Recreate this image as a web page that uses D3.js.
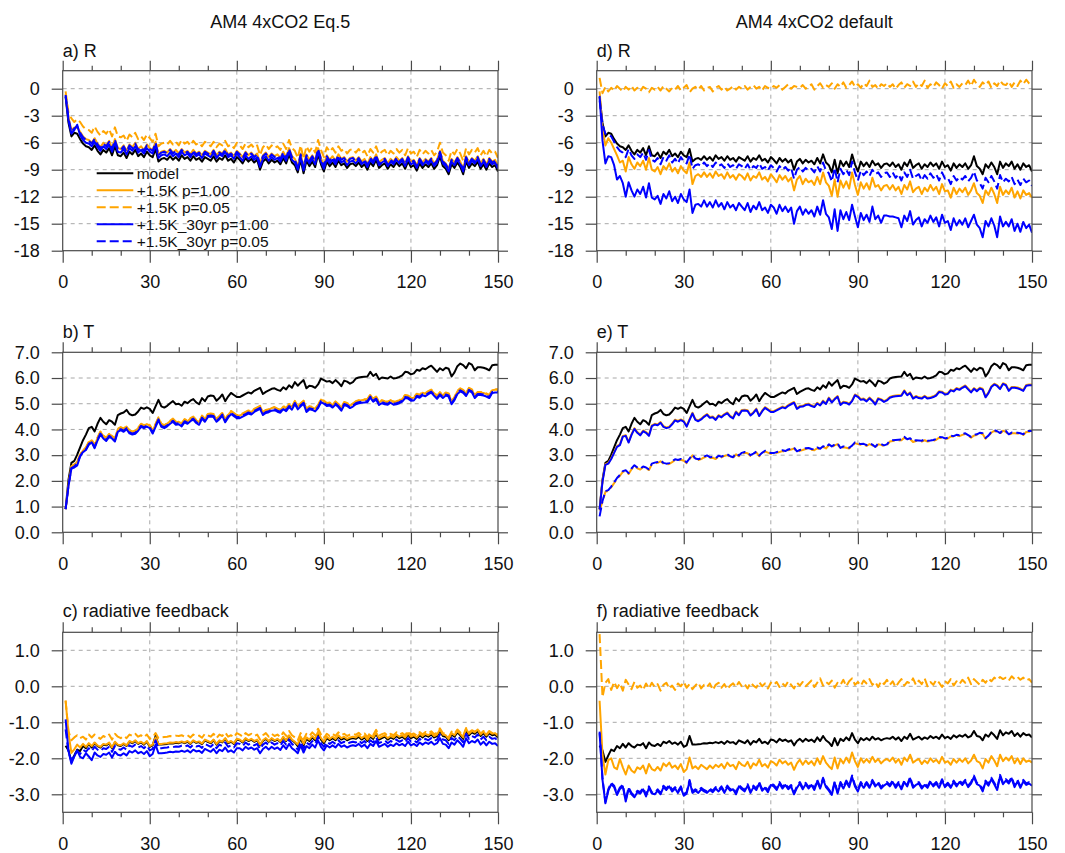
<!DOCTYPE html>
<html>
<head>
<meta charset="utf-8">
<script src="https://cdn.jsdelivr.net/npm/d3@7"></script>
<style>
  body { margin: 0; background: #fff; }
  svg { display: block; }
</style>
</head>
<body>
<svg id="chart" width="1065" height="853"></svg>
<script>
// ---------- axis ticks and labels ----------
const years = d3.range(1, 151);
const xTicks = [0, 30, 60, 90, 120, 150];
const xMinorTicks = [10, 20, 40, 50, 70, 80, 100, 110, 130, 140];
const rTicks = [0, -3, -6, -9, -12, -15, -18];
const tTicks = [0, 1, 2, 3, 4, 5, 6, 7];
const fbTicks = [1, 0, -1, -2, -3];
const columnTitles = ["AM4 4xCO2 Eq.5", "AM4 4xCO2 default"];
const seriesNames = ["model", "+1.5K p=1.00", "+1.5K p=0.05", "+1.5K_30yr p=1.00", "+1.5K_30yr p=0.05"];

// ---------- R (W m-2) ----------
const rModel = [
-0.9,-3.8,-5.3,-4.9,-5.0,-5.6,-6.1,-6.4,-6.5,-6.8,
-6.3,-6.9,-7.3,-6.8,-7.1,-6.6,-7.4,-6.4,-7.4,-7.5,
-7.1,-7.7,-7.0,-7.3,-6.8,-7.5,-7.2,-7.6,-7.0,-7.4,
-7.6,-6.7,-8.1,-7.8,-7.7,-7.9,-7.5,-7.9,-7.6,-8.0,
-7.4,-7.8,-7.6,-8.0,-7.5,-7.9,-7.7,-8.1,-7.6,-7.8,
-8.0,-7.5,-8.1,-7.7,-7.9,-7.4,-8.0,-7.8,-8.2,-7.6,
-7.9,-8.3,-7.7,-8.1,-7.8,-8.2,-7.9,-9.0,-8.1,-7.8,
-8.3,-7.9,-8.2,-8.0,-8.4,-7.7,-8.3,-7.3,-8.2,-8.5,
-9.3,-7.9,-9.4,-8.0,-8.6,-8.1,-8.7,-7.3,-8.4,-9.2,
-8.1,-8.6,-8.2,-8.7,-8.0,-8.5,-8.3,-8.8,-8.4,-8.3,
-8.6,-8.2,-8.7,-8.4,-9.0,-8.2,-8.6,-7.9,-8.8,-8.5,
-8.3,-8.9,-8.4,-8.7,-8.2,-8.6,-8.3,-8.9,-8.1,-8.7,
-8.5,-9.1,-8.3,-8.8,-8.4,-8.7,-8.3,-8.9,-8.5,-7.5,
-8.6,-8.9,-9.5,-8.4,-8.8,-8.2,-8.7,-9.5,-8.1,-8.8,
-8.3,-8.6,-8.1,-8.9,-8.4,-9.0,-8.3,-8.7,-8.5,-9.2];

const rEqP100 = [
-0.6,-3.2,-4.6,-4.3,-4.3,-4.8,-5.3,-5.6,-5.7,-6.0,
-5.5,-6.1,-6.5,-6.0,-6.3,-5.8,-6.6,-5.6,-6.6,-6.7,
-6.3,-6.9,-6.2,-6.5,-6.0,-6.7,-6.4,-6.8,-6.2,-6.6,
-6.8,-5.9,-7.3,-7.0,-6.9,-7.1,-6.7,-7.1,-6.8,-7.2,
-6.7,-7.1,-6.9,-7.3,-6.8,-7.2,-7.0,-7.4,-6.9,-7.1,
-7.3,-6.8,-7.4,-7.0,-7.2,-6.7,-7.3,-7.1,-7.5,-6.9,
-7.2,-7.6,-7.0,-7.4,-7.1,-7.5,-7.2,-8.3,-7.4,-7.1,
-7.6,-7.2,-7.5,-7.3,-7.7,-7.0,-7.6,-6.6,-7.5,-7.8,
-8.6,-7.2,-8.7,-7.3,-7.9,-7.4,-8.0,-6.6,-7.7,-8.5,
-7.4,-7.9,-7.5,-8.0,-7.3,-7.8,-7.6,-8.1,-7.7,-7.6,
-8.0,-7.6,-8.1,-7.8,-8.4,-7.6,-8.0,-7.3,-8.2,-7.9,
-7.7,-8.3,-7.8,-8.1,-7.6,-8.0,-7.7,-8.3,-7.5,-8.1,
-7.9,-8.5,-7.7,-8.2,-7.8,-8.1,-7.7,-8.3,-7.9,-6.9,
-8.0,-8.3,-8.9,-7.8,-8.2,-7.6,-8.1,-8.9,-7.5,-8.2,
-7.7,-8.0,-7.5,-8.3,-7.8,-8.4,-7.7,-8.1,-7.9,-8.6];

const rEqP005 = [
-0.3,-2.7,-3.3,-3.7,-3.4,-3.7,-4.2,-4.5,-4.6,-4.9,
-4.2,-4.8,-5.2,-4.7,-5.0,-4.5,-5.3,-4.3,-5.3,-5.4,
-5.2,-5.8,-5.1,-5.4,-4.9,-5.6,-5.3,-5.7,-5.1,-5.5,
-5.9,-5.0,-6.4,-6.1,-6.0,-6.2,-5.8,-6.2,-5.9,-6.3,
-5.7,-6.1,-5.9,-6.3,-5.8,-6.2,-6.0,-6.4,-5.9,-6.1,
-6.4,-5.9,-6.5,-6.1,-6.3,-5.8,-6.4,-6.2,-6.6,-6.0,
-6.3,-6.7,-6.1,-6.5,-6.2,-6.6,-6.3,-7.4,-6.5,-6.2,
-6.7,-6.3,-6.6,-6.4,-6.8,-6.1,-6.7,-5.7,-6.6,-6.9,
-7.7,-6.3,-7.8,-6.4,-7.0,-6.5,-7.1,-5.7,-6.8,-7.6,
-6.5,-7.0,-6.6,-7.1,-6.4,-6.9,-6.7,-7.2,-6.8,-6.7,
-7.1,-6.7,-7.2,-6.9,-7.5,-6.7,-7.1,-6.4,-7.3,-7.0,
-6.8,-7.4,-6.9,-7.2,-6.7,-7.1,-6.8,-7.4,-6.6,-7.2,
-7.0,-7.6,-6.8,-7.3,-6.9,-7.2,-6.8,-7.4,-7.0,-6.0,
-7.1,-7.4,-8.0,-6.9,-7.3,-6.7,-7.2,-8.0,-6.6,-7.3,
-6.8,-7.1,-6.6,-7.4,-6.9,-7.5,-6.8,-7.2,-7.0,-7.7];

const rEq30P100 = [
-0.8,-3.5,-5.0,-4.6,-4.0,-5.2,-5.7,-6.0,-6.1,-6.4,
-5.9,-6.5,-6.9,-6.4,-6.7,-6.2,-7.0,-6.0,-7.0,-7.1,
-6.7,-7.3,-6.6,-6.9,-6.4,-7.1,-6.8,-7.2,-6.6,-7.0,
-7.2,-6.3,-7.7,-7.4,-7.3,-7.5,-7.1,-7.5,-7.2,-7.6,
-7.0,-7.4,-7.2,-7.6,-7.1,-7.5,-7.3,-7.7,-7.2,-7.4,
-7.6,-7.1,-7.7,-7.3,-7.5,-7.0,-7.6,-7.4,-7.8,-7.2,
-7.6,-8.0,-7.4,-7.8,-7.5,-7.9,-7.6,-8.7,-7.8,-7.5,
-8.0,-7.6,-7.9,-7.7,-8.1,-7.4,-8.0,-7.0,-7.9,-8.2,
-9.0,-7.6,-9.1,-7.7,-8.3,-7.8,-8.4,-7.0,-8.1,-8.9,
-7.8,-8.3,-7.9,-8.4,-7.7,-8.2,-8.0,-8.5,-8.1,-8.0,
-8.3,-7.9,-8.4,-8.1,-8.7,-7.9,-8.3,-7.6,-8.5,-8.2,
-8.0,-8.6,-8.1,-8.4,-7.9,-8.3,-8.0,-8.6,-7.8,-8.4,
-8.2,-8.8,-8.0,-8.5,-8.1,-8.4,-8.0,-8.6,-8.2,-7.2,
-8.3,-8.6,-9.2,-8.1,-8.5,-7.9,-8.4,-9.2,-7.8,-8.5,
-8.0,-8.3,-7.8,-8.6,-8.1,-8.7,-8.0,-8.4,-8.2,-8.9];

const rEq30P005 = [
-0.7,-3.3,-4.8,-4.4,-4.2,-4.9,-5.4,-5.7,-5.8,-6.1,
-5.6,-6.2,-6.6,-6.1,-6.4,-5.9,-6.7,-5.7,-6.7,-6.8,
-6.4,-7.0,-6.3,-6.6,-6.1,-6.8,-6.5,-6.9,-6.3,-6.7,
-6.9,-6.0,-7.4,-7.1,-7.0,-7.2,-6.8,-7.2,-6.9,-7.3,
-6.8,-7.2,-7.0,-7.4,-6.9,-7.3,-7.1,-7.5,-7.0,-7.2,
-7.4,-6.9,-7.5,-7.1,-7.3,-6.8,-7.4,-7.2,-7.6,-7.0,
-7.3,-7.7,-7.1,-7.5,-7.2,-7.6,-7.3,-8.4,-7.5,-7.2,
-7.7,-7.3,-7.6,-7.4,-7.8,-7.1,-7.7,-6.7,-7.6,-7.9,
-8.7,-7.3,-8.8,-7.4,-8.0,-7.5,-8.1,-6.7,-7.8,-8.6,
-7.5,-8.0,-7.6,-8.1,-7.4,-7.9,-7.7,-8.2,-7.8,-7.7,
-8.1,-7.7,-8.2,-7.9,-8.5,-7.7,-8.1,-7.4,-8.3,-8.0,
-7.8,-8.4,-7.9,-8.2,-7.7,-8.1,-7.8,-8.4,-7.6,-8.2,
-8.0,-8.6,-7.8,-8.3,-7.9,-8.2,-7.8,-8.4,-8.0,-7.0,
-8.1,-8.4,-9.0,-7.9,-8.3,-7.7,-8.2,-9.0,-7.6,-8.3,
-7.8,-8.1,-7.6,-8.4,-7.9,-8.5,-7.8,-8.2,-8.0,-8.7];

const rDefP100 = [
-0.3,-4.5,-6.3,-5.5,-6.0,-6.7,-7.4,-8.2,-8.0,-9.2,
-7.6,-8.4,-8.9,-8.2,-8.6,-8.0,-9.0,-7.7,-9.0,-9.2,
-8.7,-9.5,-8.6,-9.0,-8.3,-9.2,-8.8,-9.4,-8.6,-9.1,
-9.4,-8.2,-10.6,-9.7,-9.5,-9.8,-9.3,-9.8,-9.4,-9.9,
-9.2,-9.7,-9.5,-10.0,-9.3,-9.9,-9.6,-10.1,-9.5,-9.7,
-10.1,-9.4,-10.2,-9.7,-9.9,-9.3,-10.1,-9.8,-10.3,-9.5,
-9.9,-10.4,-9.6,-10.1,-9.7,-10.3,-9.9,-11.3,-10.1,-9.7,
-10.6,-10.0,-10.4,-10.2,-10.7,-9.8,-10.6,-9.3,-10.4,-10.8,
-11.9,-10.1,-12.0,-10.2,-11.0,-10.3,-11.1,-9.3,-10.7,-11.8,
-10.4,-11.1,-10.5,-11.2,-9.9,-10.9,-10.7,-11.3,-10.8,-10.7,
-11.2,-10.7,-11.3,-10.9,-11.7,-10.7,-11.2,-10.3,-11.5,-11.1,
-10.9,-11.7,-11.0,-11.4,-10.7,-11.3,-10.9,-11.7,-10.6,-11.4,
-11.3,-12.1,-11.0,-11.7,-11.1,-11.5,-11.0,-11.8,-11.3,-10.5,
-11.6,-11.9,-12.7,-11.3,-11.8,-11.0,-11.7,-12.7,-10.9,-11.8,
-11.3,-11.7,-11.0,-12.1,-11.4,-12.2,-11.3,-11.8,-11.6,-12.1];

const rDefP005 = [
1.2,-0.5,0.2,-0.3,0.1,-0.2,0.3,0.0,-0.3,0.2,
-0.1,0.3,-0.2,0.1,-0.3,0.2,0.0,-0.4,0.1,-0.1,
0.2,-0.2,0.3,0.0,-0.3,0.1,-0.1,0.3,-0.2,0.1,
0.4,-0.4,0.0,0.2,-0.1,0.3,-0.2,0.1,0.2,-0.3,
0.1,0.3,-0.1,0.2,-0.2,0.0,0.3,-0.1,0.2,0.0,
0.3,-0.1,0.2,0.4,0.0,0.2,-0.2,0.3,0.1,0.0,
0.3,0.1,0.4,-0.1,0.2,0.5,0.0,0.3,0.2,0.1,
0.4,0.0,0.2,0.5,-0.1,0.3,0.6,0.1,0.4,0.2,
0.6,0.0,0.5,0.2,0.7,0.1,0.4,0.8,0.2,0.5,
0.1,0.6,0.3,0.9,0.2,0.4,0.0,0.5,0.3,0.6,
0.2,0.5,0.0,0.4,0.7,0.1,0.5,0.3,0.8,0.2,
0.6,0.3,0.9,0.1,0.5,0.2,0.7,0.4,0.0,0.6,
0.3,0.8,0.1,0.5,0.2,0.6,0.4,0.9,0.3,1.0,
0.5,0.2,0.7,0.4,0.8,0.1,0.6,0.3,0.9,0.5,
0.4,0.8,0.2,0.7,0.3,0.9,0.5,1.0,0.6,0.4];

const rDef30P100 = [
-0.8,-5.8,-8.3,-7.5,-7.6,-8.5,-10.1,-9.7,-10.5,-12.0,
-10.4,-11.3,-12.0,-11.2,-11.7,-10.9,-12.1,-10.5,-12.1,-12.3,
-11.9,-12.8,-11.7,-12.2,-11.4,-12.5,-12.0,-12.7,-11.7,-12.3,
-12.6,-11.2,-13.8,-12.9,-12.8,-13.1,-12.4,-13.1,-12.6,-13.2,
-12.4,-13.1,-12.7,-13.4,-12.6,-13.2,-12.9,-13.5,-12.7,-13.1,
-13.5,-12.7,-13.7,-13.0,-13.4,-12.6,-13.5,-13.2,-13.8,-12.9,
-13.2,-13.9,-12.9,-13.6,-13.1,-13.7,-13.2,-15.0,-13.6,-13.1,
-14.0,-13.4,-13.9,-13.5,-14.2,-13.1,-14.0,-12.4,-13.9,-14.3,
-15.6,-13.4,-15.8,-13.5,-14.5,-13.7,-14.6,-12.9,-14.2,-15.4,
-13.8,-14.6,-14.0,-14.8,-13.1,-14.5,-14.1,-14.9,-14.1,-14.1,
-14.2,-14.2,-14.3,-14.4,-15.4,-14.1,-14.7,-13.6,-15.1,-14.6,
-14.3,-15.3,-14.5,-14.9,-14.1,-14.8,-14.3,-15.3,-14.0,-14.9,
-14.7,-15.7,-14.4,-15.2,-14.6,-15.1,-14.4,-15.4,-14.7,-14.0,
-15.1,-15.5,-16.5,-14.7,-15.3,-14.4,-15.2,-16.5,-14.2,-15.3,
-14.8,-15.3,-14.5,-15.8,-15.0,-15.9,-14.8,-15.5,-15.1,-16.0];

const rDef30P005 = [
-1.3,-4.0,-5.0,-5.1,-5.3,-5.9,-6.5,-6.9,-7.1,-7.6,
-6.7,-7.4,-7.8,-7.3,-7.6,-7.1,-7.9,-6.8,-7.9,-8.1,
-7.7,-8.4,-7.6,-8.0,-7.4,-8.2,-7.8,-8.3,-7.6,-8.1,
-8.3,-7.3,-8.9,-8.5,-8.4,-8.6,-8.2,-8.6,-8.3,-8.7,
-8.2,-8.6,-8.4,-8.8,-8.3,-8.7,-8.5,-8.9,-8.4,-8.6,
-8.9,-8.4,-9.0,-8.6,-8.8,-8.3,-8.9,-8.7,-9.1,-8.5,
-8.8,-9.2,-8.6,-9.0,-8.7,-9.1,-8.8,-10.0,-9.0,-8.7,
-9.2,-8.8,-9.1,-8.9,-9.3,-8.6,-9.2,-8.2,-9.1,-9.4,
-10.3,-8.8,-10.4,-8.9,-9.5,-9.0,-9.6,-8.1,-9.3,-10.2,
-9.1,-9.6,-9.2,-9.7,-9.0,-9.5,-9.3,-9.8,-9.4,-9.3,
-9.8,-9.3,-9.9,-9.5,-10.2,-9.3,-9.8,-9.0,-10.0,-9.7,
-9.5,-10.2,-9.6,-10.0,-9.4,-9.9,-9.5,-10.2,-9.3,-10.0,
-9.9,-10.6,-9.7,-10.2,-9.8,-10.1,-9.7,-10.3,-9.9,-9.2,
-10.2,-10.5,-11.1,-9.9,-10.4,-9.7,-10.3,-11.1,-9.6,-10.4,
-10.0,-10.3,-9.8,-10.6,-10.1,-10.7,-10.0,-10.4,-10.2,-10.8];

// ---------- T (K) ----------
const tModel = [
0.90,2.05,2.70,2.78,3.02,3.30,3.58,3.80,4.05,4.10,
3.92,4.22,4.45,4.30,4.20,4.36,4.30,4.18,4.56,4.62,
4.66,4.76,4.60,4.55,4.58,4.70,4.85,4.80,4.86,4.80,
4.64,4.90,5.15,4.90,4.85,4.92,5.02,5.10,4.98,5.00,
4.92,5.08,5.02,5.12,5.18,5.05,4.98,5.22,5.10,5.28,
5.32,5.30,5.12,5.22,5.36,5.10,5.28,5.42,5.34,5.26,
5.26,5.32,5.38,5.44,5.40,5.50,5.56,5.62,5.38,5.46,
5.52,5.58,5.60,5.54,5.50,5.64,5.56,5.72,5.62,5.84,
5.70,5.82,5.92,5.60,5.70,5.68,5.62,5.75,5.98,5.92,
5.86,5.88,5.80,5.92,5.82,5.68,5.90,5.86,5.78,5.84,
5.98,6.02,6.04,6.05,6.06,6.24,6.08,6.16,5.95,6.02,
6.00,5.98,6.06,5.98,6.00,6.04,6.10,6.24,6.22,6.14,
6.18,6.32,6.28,6.38,6.34,6.42,6.48,6.36,6.24,6.38,
6.30,6.40,6.36,6.06,6.22,6.46,6.56,6.50,6.38,6.58,
6.52,6.30,6.42,6.42,6.40,6.36,6.30,6.50,6.52,6.52];

const tEqP100 = [
0.90,1.85,2.55,2.62,2.75,3.00,3.18,3.28,3.50,3.58,
3.37,3.67,3.90,3.75,3.65,3.81,3.75,3.63,4.01,4.07,
4.01,4.11,3.95,3.90,3.93,4.05,4.20,4.15,4.21,4.15,
3.94,4.20,4.45,4.20,4.15,4.22,4.32,4.40,4.28,4.30,
4.22,4.38,4.32,4.42,4.48,4.35,4.28,4.52,4.40,4.58,
4.60,4.58,4.40,4.50,4.64,4.38,4.56,4.70,4.62,4.54,
4.54,4.60,4.66,4.72,4.68,4.78,4.84,4.90,4.66,4.74,
4.77,4.83,4.85,4.79,4.75,4.89,4.81,4.97,4.87,5.09,
4.88,5.00,5.10,4.78,4.88,4.86,4.80,4.93,5.16,5.10,
5.01,5.03,4.95,5.07,4.97,4.83,5.05,5.01,4.93,4.99,
5.08,5.12,5.14,5.15,5.16,5.34,5.18,5.26,5.05,5.12,
5.08,5.06,5.14,5.06,5.08,5.12,5.18,5.32,5.30,5.22,
5.23,5.37,5.33,5.43,5.39,5.47,5.53,5.41,5.29,5.43,
5.32,5.42,5.38,5.08,5.24,5.48,5.58,5.52,5.40,5.60,
5.54,5.32,5.44,5.44,5.42,5.38,5.32,5.52,5.54,5.54];

const tEqP005 = [
0.90,1.87,2.57,2.64,2.77,3.02,3.20,3.30,3.52,3.60,
3.39,3.69,3.92,3.77,3.67,3.83,3.77,3.65,4.03,4.09,
4.03,4.13,3.97,3.92,3.95,4.07,4.22,4.17,4.23,4.17,
3.96,4.22,4.47,4.22,4.17,4.24,4.34,4.42,4.30,4.32,
4.24,4.40,4.34,4.44,4.50,4.37,4.30,4.54,4.42,4.60,
4.62,4.60,4.42,4.52,4.66,4.40,4.58,4.72,4.64,4.56,
4.56,4.62,4.68,4.74,4.70,4.80,4.86,4.92,4.68,4.76,
4.79,4.85,4.87,4.81,4.77,4.91,4.83,4.99,4.89,5.11,
4.90,5.02,5.12,4.80,4.90,4.88,4.82,4.95,5.18,5.12,
5.03,5.05,4.97,5.09,4.99,4.85,5.07,5.03,4.95,5.01,
5.10,5.14,5.16,5.17,5.18,5.36,5.20,5.28,5.07,5.14,
5.10,5.08,5.16,5.08,5.10,5.14,5.20,5.34,5.32,5.24,
5.25,5.39,5.35,5.45,5.41,5.49,5.55,5.43,5.31,5.45,
5.34,5.44,5.40,5.10,5.26,5.50,5.60,5.54,5.42,5.62,
5.56,5.34,5.46,5.46,5.44,5.40,5.34,5.54,5.56,5.56];

const tEq30P100 = [
0.90,1.80,2.48,2.52,2.60,2.95,3.12,3.20,3.40,3.50,
3.27,3.57,3.80,3.65,3.55,3.71,3.65,3.53,3.91,3.97,
3.91,4.01,3.85,3.80,3.83,3.95,4.10,4.05,4.11,4.05,
3.84,4.10,4.35,4.10,4.05,4.12,4.22,4.30,4.18,4.20,
4.12,4.28,4.22,4.32,4.38,4.25,4.18,4.42,4.30,4.48,
4.50,4.48,4.30,4.40,4.54,4.28,4.46,4.60,4.52,4.44,
4.44,4.50,4.56,4.62,4.58,4.68,4.74,4.80,4.56,4.64,
4.67,4.73,4.75,4.69,4.65,4.79,4.71,4.87,4.77,4.99,
4.78,4.90,5.00,4.68,4.78,4.76,4.70,4.83,5.06,5.00,
4.91,4.93,4.85,4.97,4.87,4.73,4.95,4.91,4.83,4.89,
4.98,5.02,5.04,5.05,5.06,5.24,5.08,5.16,4.95,5.02,
4.98,4.96,5.04,4.96,4.98,5.02,5.08,5.22,5.20,5.12,
5.13,5.27,5.23,5.33,5.29,5.37,5.43,5.31,5.19,5.33,
5.22,5.32,5.28,4.98,5.14,5.38,5.48,5.42,5.30,5.50,
5.44,5.22,5.34,5.34,5.32,5.28,5.22,5.42,5.44,5.44];

const tEq30P005 = [
0.90,1.82,2.50,2.56,2.68,2.96,3.14,3.22,3.44,3.52,
3.31,3.61,3.84,3.69,3.59,3.75,3.69,3.57,3.95,4.01,
3.95,4.05,3.89,3.84,3.87,3.99,4.14,4.09,4.15,4.09,
3.88,4.14,4.39,4.14,4.09,4.16,4.26,4.34,4.22,4.24,
4.16,4.32,4.26,4.36,4.42,4.29,4.22,4.46,4.34,4.52,
4.54,4.52,4.34,4.44,4.58,4.32,4.50,4.64,4.56,4.48,
4.48,4.54,4.60,4.66,4.62,4.72,4.78,4.84,4.60,4.68,
4.71,4.77,4.79,4.73,4.69,4.83,4.75,4.91,4.81,5.03,
4.82,4.94,5.04,4.72,4.82,4.80,4.74,4.87,5.10,5.04,
4.95,4.97,4.89,5.01,4.91,4.77,4.99,4.95,4.87,4.93,
5.02,5.06,5.08,5.09,5.10,5.28,5.12,5.20,4.99,5.06,
5.02,5.00,5.08,5.00,5.02,5.06,5.12,5.26,5.24,5.16,
5.17,5.31,5.27,5.37,5.33,5.41,5.47,5.35,5.23,5.37,
5.26,5.36,5.32,5.02,5.18,5.42,5.52,5.46,5.34,5.54,
5.48,5.26,5.38,5.38,5.36,5.32,5.26,5.46,5.48,5.48];

const tDefP100 = [
0.90,2.00,2.65,2.70,2.88,3.12,3.35,3.42,3.75,3.78,
3.52,3.82,4.05,3.90,3.80,3.96,3.90,3.78,4.16,4.22,
4.19,4.29,4.13,4.08,4.11,4.23,4.38,4.33,4.39,4.33,
4.14,4.40,4.65,4.40,4.35,4.42,4.52,4.60,4.48,4.50,
4.40,4.56,4.50,4.60,4.66,4.53,4.46,4.70,4.58,4.76,
4.77,4.75,4.57,4.67,4.81,4.55,4.73,4.87,4.79,4.71,
4.71,4.77,4.83,4.89,4.85,4.95,5.01,5.07,4.83,4.91,
4.92,4.98,5.00,4.94,4.90,5.04,4.96,5.12,5.02,5.24,
5.08,5.20,5.30,4.98,5.08,5.06,5.00,5.13,5.36,5.30,
5.18,5.20,5.12,5.24,5.14,5.00,5.22,5.18,5.10,5.16,
5.26,5.30,5.32,5.33,5.34,5.52,5.36,5.44,5.23,5.30,
5.25,5.23,5.31,5.23,5.25,5.29,5.35,5.49,5.47,5.39,
5.41,5.55,5.51,5.61,5.57,5.65,5.71,5.59,5.47,5.61,
5.52,5.62,5.58,5.28,5.44,5.68,5.78,5.72,5.60,5.80,
5.75,5.53,5.65,5.65,5.63,5.59,5.53,5.73,5.75,5.75];

const tDefP005 = [
0.85,1.19,1.57,1.61,1.75,1.91,2.08,2.20,2.35,2.38,
2.27,2.45,2.58,2.49,2.44,2.53,2.49,2.42,2.64,2.68,
2.70,2.76,2.67,2.64,2.66,2.73,2.81,2.78,2.82,2.78,
2.69,2.84,2.99,2.84,2.81,2.85,2.91,2.96,2.89,2.90,
2.85,2.95,2.91,2.97,3.00,2.93,2.89,3.03,2.96,3.06,
3.09,3.07,2.97,3.03,3.11,2.96,3.06,3.14,3.10,3.05,
3.05,3.09,3.12,3.16,3.13,3.19,3.22,3.26,3.12,3.17,
3.20,3.24,3.25,3.21,3.19,3.27,3.22,3.32,3.26,3.39,
3.31,3.38,3.43,3.25,3.31,3.29,3.26,3.34,3.47,3.43,
3.40,3.41,3.36,3.43,3.38,3.29,3.42,3.40,3.35,3.39,
3.53,3.55,3.56,3.57,3.58,3.68,3.59,3.63,3.51,3.55,
3.54,3.53,3.58,3.53,3.54,3.56,3.60,3.68,3.67,3.62,
3.65,3.73,3.71,3.76,3.74,3.79,3.82,3.75,3.68,3.76,
3.78,3.84,3.82,3.64,3.73,3.88,3.94,3.90,3.83,3.95,
3.91,3.78,3.85,3.85,3.84,3.82,3.78,3.90,3.91,3.91];

const tDef30P100 = [
0.88,1.97,2.62,2.67,2.85,3.09,3.32,3.39,3.72,3.75,
3.49,3.79,4.02,3.87,3.77,3.93,3.87,3.75,4.13,4.19,
4.16,4.26,4.10,4.05,4.08,4.20,4.35,4.30,4.36,4.30,
4.11,4.37,4.62,4.37,4.32,4.39,4.49,4.57,4.45,4.47,
4.37,4.53,4.47,4.57,4.63,4.50,4.43,4.67,4.55,4.73,
4.74,4.72,4.54,4.64,4.78,4.52,4.70,4.84,4.76,4.68,
4.68,4.74,4.80,4.86,4.82,4.92,4.98,5.04,4.80,4.88,
4.89,4.95,4.97,4.91,4.87,5.01,4.93,5.09,4.99,5.21,
5.05,5.17,5.27,4.95,5.05,5.03,4.97,5.10,5.33,5.27,
5.15,5.17,5.09,5.21,5.11,4.97,5.19,5.15,5.07,5.13,
5.23,5.27,5.29,5.30,5.31,5.49,5.33,5.41,5.20,5.27,
5.22,5.20,5.28,5.20,5.22,5.26,5.32,5.46,5.44,5.36,
5.38,5.52,5.48,5.58,5.54,5.62,5.68,5.56,5.44,5.58,
5.49,5.59,5.55,5.25,5.41,5.65,5.75,5.69,5.57,5.77,
5.72,5.50,5.62,5.62,5.60,5.56,5.50,5.70,5.72,5.72];

const tDef30P005 = [
0.62,1.22,1.60,1.64,1.78,1.94,2.11,2.23,2.38,2.41,
2.30,2.48,2.61,2.52,2.47,2.56,2.52,2.45,2.67,2.71,
2.73,2.79,2.70,2.67,2.69,2.76,2.84,2.81,2.85,2.81,
2.72,2.87,3.02,2.87,2.84,2.88,2.94,2.99,2.92,2.93,
2.88,2.98,2.94,3.00,3.03,2.96,2.92,3.06,2.99,3.09,
3.12,3.10,3.00,3.06,3.14,2.99,3.09,3.17,3.13,3.08,
3.08,3.12,3.15,3.19,3.16,3.22,3.25,3.29,3.15,3.20,
3.23,3.27,3.28,3.24,3.22,3.30,3.25,3.35,3.29,3.42,
3.34,3.41,3.46,3.28,3.34,3.32,3.29,3.37,3.50,3.46,
3.43,3.44,3.39,3.46,3.41,3.32,3.45,3.43,3.38,3.42,
3.56,3.58,3.59,3.60,3.61,3.71,3.62,3.66,3.54,3.58,
3.57,3.56,3.61,3.56,3.57,3.59,3.63,3.71,3.70,3.65,
3.68,3.76,3.74,3.79,3.77,3.82,3.85,3.78,3.71,3.79,
3.81,3.87,3.85,3.67,3.76,3.91,3.97,3.93,3.86,3.98,
3.94,3.81,3.88,3.88,3.87,3.85,3.81,3.93,3.94,3.94];

// ---------- radiative feedback (W m-2 K-1) ----------
const fbModel = [
-1.65,-1.78,-2.10,-1.92,-1.76,-1.80,-1.66,-1.72,-1.60,-1.70,
-1.58,-1.66,-1.70,-1.62,-1.64,-1.58,-1.72,-1.56,-1.64,-1.66,
-1.60,-1.66,-1.54,-1.58,-1.52,-1.60,-1.56,-1.62,-1.54,-1.68,
-1.64,-1.38,-1.62,-1.62,-1.61,-1.60,-1.58,-1.59,-1.57,-1.58,
-1.55,-1.58,-1.54,-1.60,-1.52,-1.57,-1.55,-1.61,-1.50,-1.54,
-1.58,-1.50,-1.62,-1.52,-1.56,-1.46,-1.58,-1.54,-1.60,-1.48,
-1.50,-1.56,-1.46,-1.52,-1.48,-1.54,-1.50,-1.64,-1.52,-1.46,
-1.54,-1.46,-1.52,-1.48,-1.55,-1.42,-1.52,-1.38,-1.50,-1.56,
-1.66,-1.44,-1.64,-1.46,-1.52,-1.42,-1.50,-1.30,-1.48,-1.58,
-1.44,-1.50,-1.44,-1.50,-1.40,-1.48,-1.44,-1.50,-1.46,-1.44,
-1.46,-1.40,-1.48,-1.42,-1.52,-1.40,-1.46,-1.32,-1.48,-1.44,
-1.40,-1.48,-1.42,-1.46,-1.38,-1.44,-1.40,-1.46,-1.34,-1.44,
-1.40,-1.46,-1.36,-1.42,-1.36,-1.40,-1.34,-1.42,-1.38,-1.24,
-1.38,-1.40,-1.50,-1.34,-1.40,-1.28,-1.36,-1.46,-1.22,-1.36,
-1.28,-1.32,-1.24,-1.38,-1.30,-1.40,-1.30,-1.36,-1.34,-1.42];

const fbEqP100 = [
-0.40,-1.30,-1.85,-1.75,-1.62,-1.70,-1.60,-1.68,-1.58,-1.66,
-1.56,-1.64,-1.68,-1.60,-1.62,-1.56,-1.70,-1.54,-1.62,-1.64,
-1.58,-1.64,-1.52,-1.56,-1.50,-1.58,-1.54,-1.60,-1.52,-1.66,
-1.62,-1.42,-1.60,-1.60,-1.59,-1.58,-1.56,-1.57,-1.55,-1.56,
-1.53,-1.56,-1.52,-1.58,-1.50,-1.55,-1.53,-1.59,-1.48,-1.52,
-1.56,-1.48,-1.60,-1.50,-1.54,-1.44,-1.56,-1.52,-1.58,-1.46,
-1.48,-1.54,-1.44,-1.50,-1.46,-1.52,-1.48,-1.62,-1.50,-1.44,
-1.52,-1.44,-1.50,-1.46,-1.53,-1.40,-1.50,-1.36,-1.48,-1.54,
-1.62,-1.40,-1.60,-1.42,-1.48,-1.38,-1.46,-1.26,-1.44,-1.54,
-1.40,-1.46,-1.40,-1.46,-1.36,-1.44,-1.40,-1.46,-1.42,-1.40,
-1.42,-1.36,-1.44,-1.38,-1.48,-1.36,-1.42,-1.28,-1.44,-1.40,
-1.36,-1.44,-1.38,-1.42,-1.34,-1.40,-1.36,-1.42,-1.30,-1.40,
-1.36,-1.42,-1.32,-1.38,-1.32,-1.36,-1.30,-1.38,-1.34,-1.20,
-1.34,-1.36,-1.46,-1.30,-1.36,-1.24,-1.32,-1.42,-1.18,-1.32,
-1.24,-1.28,-1.20,-1.34,-1.26,-1.36,-1.26,-1.32,-1.30,-1.38];

const fbEqP005 = [
-0.40,-1.25,-1.50,-1.42,-1.36,-1.44,-1.40,-1.48,-1.34,-1.42,
-1.34,-1.40,-1.46,-1.38,-1.42,-1.34,-1.48,-1.32,-1.40,-1.44,
-1.38,-1.44,-1.34,-1.38,-1.32,-1.40,-1.36,-1.42,-1.34,-1.46,
-1.42,-1.30,-1.44,-1.42,-1.41,-1.40,-1.38,-1.39,-1.37,-1.38,
-1.36,-1.40,-1.36,-1.42,-1.34,-1.39,-1.37,-1.43,-1.32,-1.36,
-1.40,-1.32,-1.44,-1.34,-1.38,-1.28,-1.40,-1.36,-1.42,-1.30,
-1.34,-1.40,-1.30,-1.36,-1.32,-1.38,-1.34,-1.48,-1.36,-1.30,
-1.40,-1.32,-1.38,-1.34,-1.41,-1.28,-1.38,-1.24,-1.36,-1.42,
-1.50,-1.30,-1.48,-1.32,-1.38,-1.28,-1.36,-1.18,-1.34,-1.44,
-1.32,-1.38,-1.32,-1.38,-1.28,-1.36,-1.32,-1.38,-1.34,-1.32,
-1.35,-1.29,-1.37,-1.31,-1.41,-1.29,-1.35,-1.21,-1.37,-1.33,
-1.30,-1.38,-1.32,-1.36,-1.28,-1.34,-1.30,-1.36,-1.24,-1.34,
-1.31,-1.37,-1.27,-1.33,-1.27,-1.31,-1.25,-1.33,-1.29,-1.17,
-1.30,-1.32,-1.42,-1.26,-1.32,-1.20,-1.28,-1.38,-1.16,-1.28,
-1.22,-1.26,-1.18,-1.32,-1.24,-1.34,-1.24,-1.30,-1.28,-1.36];

const fbEq30P100 = [
-0.92,-1.80,-2.15,-1.95,-1.78,-1.96,-2.00,-1.86,-1.95,-2.05,
-1.84,-1.92,-1.96,-1.88,-1.90,-1.84,-1.98,-1.82,-1.90,-1.92,
-1.86,-1.92,-1.80,-1.84,-1.78,-1.86,-1.82,-1.88,-1.80,-1.94,
-1.88,-1.62,-1.86,-1.86,-1.85,-1.84,-1.82,-1.83,-1.81,-1.82,
-1.79,-1.82,-1.78,-1.84,-1.76,-1.81,-1.79,-1.85,-1.74,-1.78,
-1.82,-1.74,-1.86,-1.76,-1.80,-1.70,-1.82,-1.78,-1.84,-1.72,
-1.72,-1.78,-1.68,-1.74,-1.70,-1.76,-1.72,-1.86,-1.74,-1.68,
-1.76,-1.68,-1.74,-1.70,-1.77,-1.64,-1.74,-1.60,-1.72,-1.78,
-1.86,-1.64,-1.84,-1.66,-1.72,-1.62,-1.70,-1.50,-1.68,-1.78,
-1.64,-1.70,-1.64,-1.70,-1.60,-1.68,-1.64,-1.70,-1.66,-1.64,
-1.66,-1.60,-1.68,-1.62,-1.72,-1.60,-1.66,-1.52,-1.68,-1.64,
-1.60,-1.68,-1.62,-1.66,-1.58,-1.64,-1.60,-1.66,-1.54,-1.64,
-1.60,-1.66,-1.56,-1.62,-1.56,-1.60,-1.54,-1.62,-1.58,-1.44,
-1.60,-1.62,-1.72,-1.56,-1.62,-1.50,-1.58,-1.68,-1.44,-1.58,
-1.52,-1.56,-1.48,-1.62,-1.54,-1.64,-1.54,-1.60,-1.58,-1.66];

const fbEq30P005 = [
-1.20,-1.85,-2.05,-1.90,-1.80,-1.88,-1.76,-1.82,-1.72,-1.80,
-1.68,-1.76,-1.80,-1.72,-1.74,-1.68,-1.82,-1.66,-1.74,-1.76,
-1.70,-1.76,-1.64,-1.68,-1.62,-1.70,-1.66,-1.72,-1.64,-1.78,
-1.74,-1.50,-1.72,-1.72,-1.71,-1.70,-1.68,-1.69,-1.67,-1.68,
-1.65,-1.68,-1.64,-1.70,-1.62,-1.67,-1.65,-1.71,-1.60,-1.64,
-1.68,-1.60,-1.72,-1.62,-1.66,-1.56,-1.68,-1.64,-1.70,-1.58,
-1.60,-1.66,-1.56,-1.62,-1.58,-1.64,-1.60,-1.74,-1.62,-1.56,
-1.64,-1.56,-1.62,-1.58,-1.65,-1.52,-1.62,-1.48,-1.60,-1.66,
-1.76,-1.54,-1.74,-1.56,-1.62,-1.52,-1.60,-1.40,-1.58,-1.68,
-1.54,-1.60,-1.54,-1.60,-1.50,-1.58,-1.54,-1.60,-1.56,-1.54,
-1.56,-1.50,-1.58,-1.52,-1.62,-1.50,-1.56,-1.42,-1.58,-1.54,
-1.50,-1.58,-1.52,-1.56,-1.48,-1.54,-1.50,-1.56,-1.44,-1.54,
-1.50,-1.56,-1.46,-1.52,-1.46,-1.50,-1.44,-1.52,-1.48,-1.34,
-1.48,-1.50,-1.60,-1.44,-1.50,-1.38,-1.46,-1.56,-1.32,-1.46,
-1.38,-1.42,-1.34,-1.48,-1.40,-1.50,-1.40,-1.46,-1.44,-1.52];

const fbDefP100 = [
-0.40,-1.90,-2.45,-2.05,-2.00,-2.25,-2.30,-2.02,-2.25,-2.45,
-2.20,-2.34,-2.40,-2.25,-2.30,-2.20,-2.42,-2.16,-2.30,-2.34,
-2.24,-2.34,-2.14,-2.22,-2.12,-2.26,-2.20,-2.30,-2.16,-2.38,
-2.30,-1.98,-2.28,-2.22,-2.30,-2.18,-2.24,-2.30,-2.20,-2.28,
-2.18,-2.24,-2.16,-2.28,-2.12,-2.22,-2.18,-2.30,-2.10,-2.18,
-2.22,-2.10,-2.28,-2.14,-2.20,-2.04,-2.22,-2.16,-2.26,-2.08,
-2.12,-2.20,-2.04,-2.14,-2.08,-2.18,-2.12,-2.32,-2.14,-2.04,
-2.18,-2.06,-2.16,-2.08,-2.20,-2.00,-2.16,-1.94,-2.12,-2.22,
-2.30,-1.98,-2.28,-2.02,-2.14,-1.98,-2.12,-1.84,-2.08,-2.24,
-2.00,-2.12,-2.02,-2.12,-1.96,-2.10,-2.02,-2.14,-2.06,-2.02,
-2.08,-1.98,-2.12,-2.02,-2.18,-1.98,-2.08,-1.90,-2.12,-2.06,
-2.02,-2.16,-2.06,-2.14,-2.00,-2.10,-2.04,-2.14,-1.96,-2.12,
-2.08,-2.18,-2.02,-2.12,-2.02,-2.10,-2.00,-2.14,-2.06,-1.90,
-2.08,-2.12,-2.28,-2.02,-2.12,-1.94,-2.06,-2.22,-1.90,-2.08,
-1.98,-2.06,-1.94,-2.14,-2.00,-2.16,-2.00,-2.10,-2.06,-2.12];

const fbDefP005 = [
1.45,-0.30,0.10,0.20,-0.10,0.12,-0.05,0.08,-0.12,0.18,
0.05,-0.08,0.12,-0.04,0.02,-0.10,0.08,-0.06,0.10,-0.02,
0.06,-0.12,0.04,0.10,-0.06,0.02,-0.10,0.08,0.00,0.12,
-0.04,0.06,-0.08,0.02,0.10,-0.06,0.04,-0.02,0.08,-0.10,
0.04,0.10,-0.04,0.06,-0.08,0.02,0.08,-0.02,0.12,0.00,
0.06,-0.06,0.10,0.02,-0.04,0.12,0.00,0.08,-0.06,0.10,
0.04,0.12,-0.02,0.08,0.00,0.14,0.04,-0.06,0.10,0.02,
0.12,0.00,0.08,0.16,-0.02,0.10,0.22,0.02,0.12,0.06,
0.16,-0.04,0.10,0.04,0.18,0.00,0.14,0.22,0.04,0.12,
0.02,0.16,0.08,0.20,0.04,0.12,-0.02,0.14,0.06,0.18,
0.04,0.14,-0.02,0.10,0.20,0.02,0.12,0.08,0.22,0.04,
0.16,0.06,0.22,0.00,0.12,0.04,0.18,0.10,-0.02,0.14,
0.08,0.20,0.02,0.14,0.06,0.18,0.10,0.24,0.06,0.20,
0.12,0.04,0.18,0.10,0.22,0.14,0.24,0.18,0.26,0.20,
0.24,0.16,0.28,0.20,0.26,0.18,0.24,0.16,0.20,0.10];

const fbDef30P100 = [
-1.30,-2.60,-3.25,-2.90,-2.72,-2.80,-3.02,-2.85,-2.78,-3.20,
-2.85,-3.00,-3.08,-2.94,-2.98,-2.86,-3.06,-2.82,-2.98,-3.00,
-2.90,-3.00,-2.80,-2.88,-2.78,-2.92,-2.84,-2.96,-2.82,-3.04,
-2.98,-2.64,-2.96,-2.90,-2.96,-2.86,-2.92,-2.96,-2.88,-2.94,
-2.84,-2.92,-2.82,-2.96,-2.80,-2.90,-2.86,-3.00,-2.78,-2.86,
-2.92,-2.76,-2.96,-2.80,-2.88,-2.70,-2.90,-2.82,-2.94,-2.74,
-2.78,-2.88,-2.70,-2.84,-2.74,-2.86,-2.78,-3.00,-2.82,-2.70,
-2.86,-2.72,-2.84,-2.74,-2.88,-2.64,-2.84,-2.58,-2.80,-2.90,
-3.02,-2.68,-2.98,-2.70,-2.84,-2.66,-2.80,-2.52,-2.78,-2.92,
-2.70,-2.82,-2.70,-2.82,-2.64,-2.78,-2.70,-2.84,-2.76,-2.70,
-2.78,-2.66,-2.82,-2.70,-2.86,-2.66,-2.78,-2.56,-2.82,-2.74,
-2.70,-2.84,-2.74,-2.82,-2.66,-2.78,-2.70,-2.82,-2.62,-2.80,
-2.72,-2.82,-2.66,-2.78,-2.66,-2.74,-2.64,-2.80,-2.70,-2.52,
-2.72,-2.76,-2.92,-2.66,-2.76,-2.58,-2.72,-2.88,-2.50,-2.72,
-2.62,-2.70,-2.56,-2.80,-2.64,-2.82,-2.64,-2.74,-2.70,-2.76];

const fbDef30P005 = [
-1.26,-2.56,-3.21,-2.86,-2.68,-2.76,-2.98,-2.81,-2.74,-3.16,
-2.81,-2.96,-3.04,-2.90,-2.94,-2.82,-3.02,-2.78,-2.94,-2.96,
-2.86,-2.96,-2.76,-2.84,-2.74,-2.88,-2.80,-2.92,-2.78,-3.00,
-2.94,-2.60,-2.92,-2.86,-2.92,-2.82,-2.88,-2.92,-2.84,-2.90,
-2.80,-2.88,-2.78,-2.92,-2.76,-2.86,-2.82,-2.96,-2.74,-2.82,
-2.88,-2.72,-2.92,-2.76,-2.84,-2.66,-2.86,-2.78,-2.90,-2.70,
-2.74,-2.84,-2.66,-2.80,-2.70,-2.82,-2.74,-2.96,-2.78,-2.66,
-2.82,-2.68,-2.80,-2.70,-2.84,-2.60,-2.80,-2.54,-2.76,-2.86,
-2.98,-2.64,-2.94,-2.66,-2.80,-2.62,-2.76,-2.48,-2.74,-2.88,
-2.66,-2.78,-2.66,-2.78,-2.60,-2.74,-2.66,-2.80,-2.72,-2.66,
-2.74,-2.62,-2.78,-2.66,-2.82,-2.62,-2.74,-2.52,-2.78,-2.70,
-2.66,-2.80,-2.70,-2.78,-2.62,-2.74,-2.66,-2.78,-2.58,-2.76,
-2.68,-2.78,-2.62,-2.74,-2.62,-2.70,-2.60,-2.76,-2.66,-2.48,
-2.68,-2.72,-2.88,-2.62,-2.72,-2.54,-2.68,-2.84,-2.46,-2.68,
-2.58,-2.66,-2.52,-2.76,-2.60,-2.78,-2.60,-2.70,-2.66,-2.72];

// ---------- layout ----------
const FONT = "'Liberation Sans', Arial, Helvetica, sans-serif";
const FS = 18;
const LEGEND_FS = 15.5;
const plotW = 435.3, plotH = 180;
const colX = [62.7, 596.7];
const rowY = [70.7, 352.3, 632.3];
const axisColor = "#4a4a4a";
const gridColor = "#a8a8a8";

// line styles follow the legend order
const lineStyles = [
  { color: "#000000", dash: null },
  { color: "#FFA500", dash: null },
  { color: "#FFA500", dash: "9,4" },
  { color: "#0000FF", dash: null },
  { color: "#0000FF", dash: "9,4" }
];

const fmtInt = d => String(d);
const fmt1 = d => d.toFixed(1);

const panels = [
  { col: 0, row: 0, label: "a) R", domain: [-18, 2], ticks: rTicks, fmt: fmtInt,
    series: [rModel, rEqP100, rEqP005, rEq30P100, rEq30P005], legend: true },
  { col: 0, row: 1, label: "b) T", domain: [0, 7], ticks: tTicks, fmt: fmt1,
    series: [tModel, tEqP100, tEqP005, tEq30P100, tEq30P005] },
  { col: 0, row: 2, label: "c) radiative feedback", domain: [-3.5, 1.5], ticks: fbTicks, fmt: fmt1,
    series: [fbModel, fbEqP100, fbEqP005, fbEq30P100, fbEq30P005] },
  { col: 1, row: 0, label: "d) R", domain: [-18, 2], ticks: rTicks, fmt: fmtInt,
    series: [rModel, rDefP100, rDefP005, rDef30P100, rDef30P005] },
  { col: 1, row: 1, label: "e) T", domain: [0, 7], ticks: tTicks, fmt: fmt1,
    series: [tModel, tDefP100, tDefP005, tDef30P100, tDef30P005] },
  { col: 1, row: 2, label: "f) radiative feedback", domain: [-3.5, 1.5], ticks: fbTicks, fmt: fmt1,
    series: [fbModel, fbDefP100, fbDefP005, fbDef30P100, fbDef30P005] }
];

const svg = d3.select("#chart");
svg.append("rect").attr("width", 1065).attr("height", 853).attr("fill", "#fff");

// column titles
columnTitles.forEach((t, i) => {
  svg.append("text")
    .attr("x", colX[i] + plotW / 2).attr("y", 27.5)
    .attr("text-anchor", "middle")
    .attr("font-family", FONT).attr("font-size", FS).attr("fill", "#111")
    .text(t);
});

const labelBaseline = [57, 338, 617];

panels.forEach((p, pi) => {
  const g = svg.append("g").attr("transform", `translate(${colX[p.col]},${rowY[p.row]})`);
  const x = d3.scaleLinear().domain([0, 150]).range([0, plotW]);
  const y = d3.scaleLinear().domain(p.domain).range([plotH, 0]);

  // panel label
  svg.append("text")
    .attr("x", colX[p.col]).attr("y", labelBaseline[p.row])
    .attr("font-family", FONT).attr("font-size", FS).attr("fill", "#111")
    .text(p.label);

  // dashed grid
  const grid = g.append("g").attr("stroke", gridColor).attr("stroke-width", 1)
    .attr("stroke-dasharray", "4,4").attr("fill", "none");
  p.ticks.forEach(t => {
    const yy = y(t);
    if (yy > 0.5 && yy < plotH - 0.5) {
      grid.append("line").attr("x1", 0).attr("x2", plotW).attr("y1", yy).attr("y2", yy);
    }
  });
  xTicks.forEach(t => {
    const xx = x(t);
    if (xx > 0.5 && xx < plotW - 0.5) {
      grid.append("line").attr("x1", xx).attr("x2", xx).attr("y1", 0).attr("y2", plotH);
    }
  });

  // data lines, clipped to the frame
  const clipId = "clip" + pi;
  g.append("clipPath").attr("id", clipId)
    .append("rect").attr("x", 0).attr("y", 0).attr("width", plotW).attr("height", plotH);
  const lineGen = d3.line().x((d, i) => x(years[i])).y(d => y(d));
  const lines = g.append("g").attr("clip-path", `url(#${clipId})`);
  p.series.forEach((s, si) => {
    const st = lineStyles[si];
    lines.append("path")
      .datum(s)
      .attr("d", lineGen)
      .attr("fill", "none")
      .attr("stroke", st.color)
      .attr("stroke-width", 2)
      .attr("stroke-linejoin", "round")
      .attr("stroke-dasharray", st.dash);
  });

  // axes with outward ticks on all four sides
  const styleAxis = sel => {
    sel.select(".domain").remove();
    sel.selectAll(".tick line").attr("stroke", axisColor).attr("stroke-width", 1.2);
    sel.selectAll(".tick text").attr("font-family", FONT).attr("font-size", FS).attr("fill", "#111");
    sel.attr("font-family", null).attr("font-size", null);
  };
  g.append("g").call(d3.axisLeft(y).tickValues(p.ticks).tickFormat(p.fmt).tickSize(11).tickPadding(12)).call(styleAxis);
  g.append("g").attr("transform", `translate(${plotW},0)`)
    .call(d3.axisRight(y).tickValues(p.ticks).tickFormat("").tickSize(10)).call(styleAxis);
  g.append("g").attr("transform", `translate(0,${plotH})`)
    .call(d3.axisBottom(x).tickValues(xTicks).tickFormat(fmtInt).tickSize(12).tickPadding(13)).call(styleAxis);
  g.append("g").attr("transform", `translate(0,${plotH})`)
    .call(d3.axisBottom(x).tickValues(xMinorTicks).tickFormat("").tickSize(5)).call(styleAxis);
  g.append("g")
    .call(d3.axisTop(x).tickValues(xTicks).tickFormat("").tickSize(10)).call(styleAxis);
  g.append("g")
    .call(d3.axisTop(x).tickValues(xMinorTicks).tickFormat("").tickSize(5)).call(styleAxis);

  // frame
  g.append("rect").attr("x", 0).attr("y", 0).attr("width", plotW).attr("height", plotH)
    .attr("fill", "none").attr("stroke", axisColor).attr("stroke-width", 1.2);

  // legend
  if (p.legend) {
    const lg = g.append("g");
    seriesNames.forEach((name, i) => {
      const ly = 102.5 + i * 17;
      const st = lineStyles[i];
      lg.append("line").attr("x1", 34).attr("x2", 70.6).attr("y1", ly).attr("y2", ly)
        .attr("stroke", st.color).attr("stroke-width", 2).attr("stroke-dasharray", st.dash);
      lg.append("text").attr("x", 74).attr("y", ly + 5.5)
        .attr("font-family", FONT).attr("font-size", LEGEND_FS).attr("fill", "#111")
        .text(name);
    });
  }
});
</script>
</body>
</html>
